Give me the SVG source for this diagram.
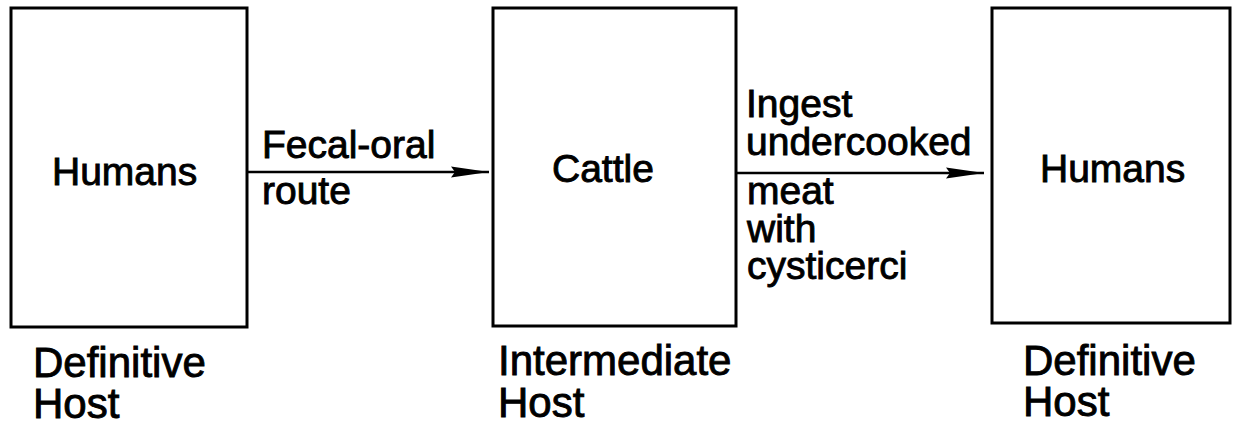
<svg xmlns="http://www.w3.org/2000/svg" width="1233" height="427" viewBox="0 0 1233 427">
<style>
.box{fill:#fff;stroke:#000;stroke-width:3}
.lbl{font-family:"Liberation Sans",Arial,sans-serif;font-size:39px;fill:#000;stroke:#000;stroke-width:0.9}
.host{font-family:"Liberation Sans",Arial,sans-serif;font-size:42px;fill:#000;stroke:#000;stroke-width:0.9}
.edge{stroke:#000;stroke-width:2.5;fill:none}
</style>
<defs>
<marker id="arr" markerUnits="userSpaceOnUse" markerWidth="40" markerHeight="14" refX="38" refY="7" orient="auto">
<path d="M0,1.5 L38,7 L0,12.5 L4,7 Z" fill="#000"/>
</marker>
</defs>
<rect width="1233" height="427" fill="#fff"/>
<g id="connectors">
<line class="edge" x1="247" y1="172" x2="489" y2="172" marker-end="url(#arr)"/>
<line class="edge" x1="736" y1="173" x2="984" y2="173" marker-end="url(#arr)"/>
<text class="lbl" x="262" y="158">Fecal-oral</text>
<text class="lbl" x="262" y="204">route</text>
<text class="lbl" x="746" y="117">Ingest</text>
<text class="lbl" x="746" y="155">undercooked</text>
<text class="lbl" x="747" y="204">meat</text>
<text class="lbl" x="747" y="242">with</text>
<text class="lbl" x="747" y="279">cysticerci</text>
</g>
<g id="humans1">
<rect class="box" x="11" y="8" width="236" height="319"/>
<text class="lbl" x="52" y="185">Humans</text>
<text class="host" x="33" y="377">Definitive</text>
<text class="host" x="33" y="418">Host</text>
</g>
<g id="cattle">
<rect class="box" x="493" y="8" width="243" height="318"/>
<text class="lbl" x="552" y="182">Cattle</text>
<text class="host" x="498" y="375">Intermediate</text>
<text class="host" x="498" y="417">Host</text>
</g>
<g id="humans2">
<rect class="box" x="992" y="8" width="238" height="315"/>
<text class="lbl" x="1040" y="182">Humans</text>
<text class="host" x="1023" y="375">Definitive</text>
<text class="host" x="1023" y="416">Host</text>
</g>
</svg>
